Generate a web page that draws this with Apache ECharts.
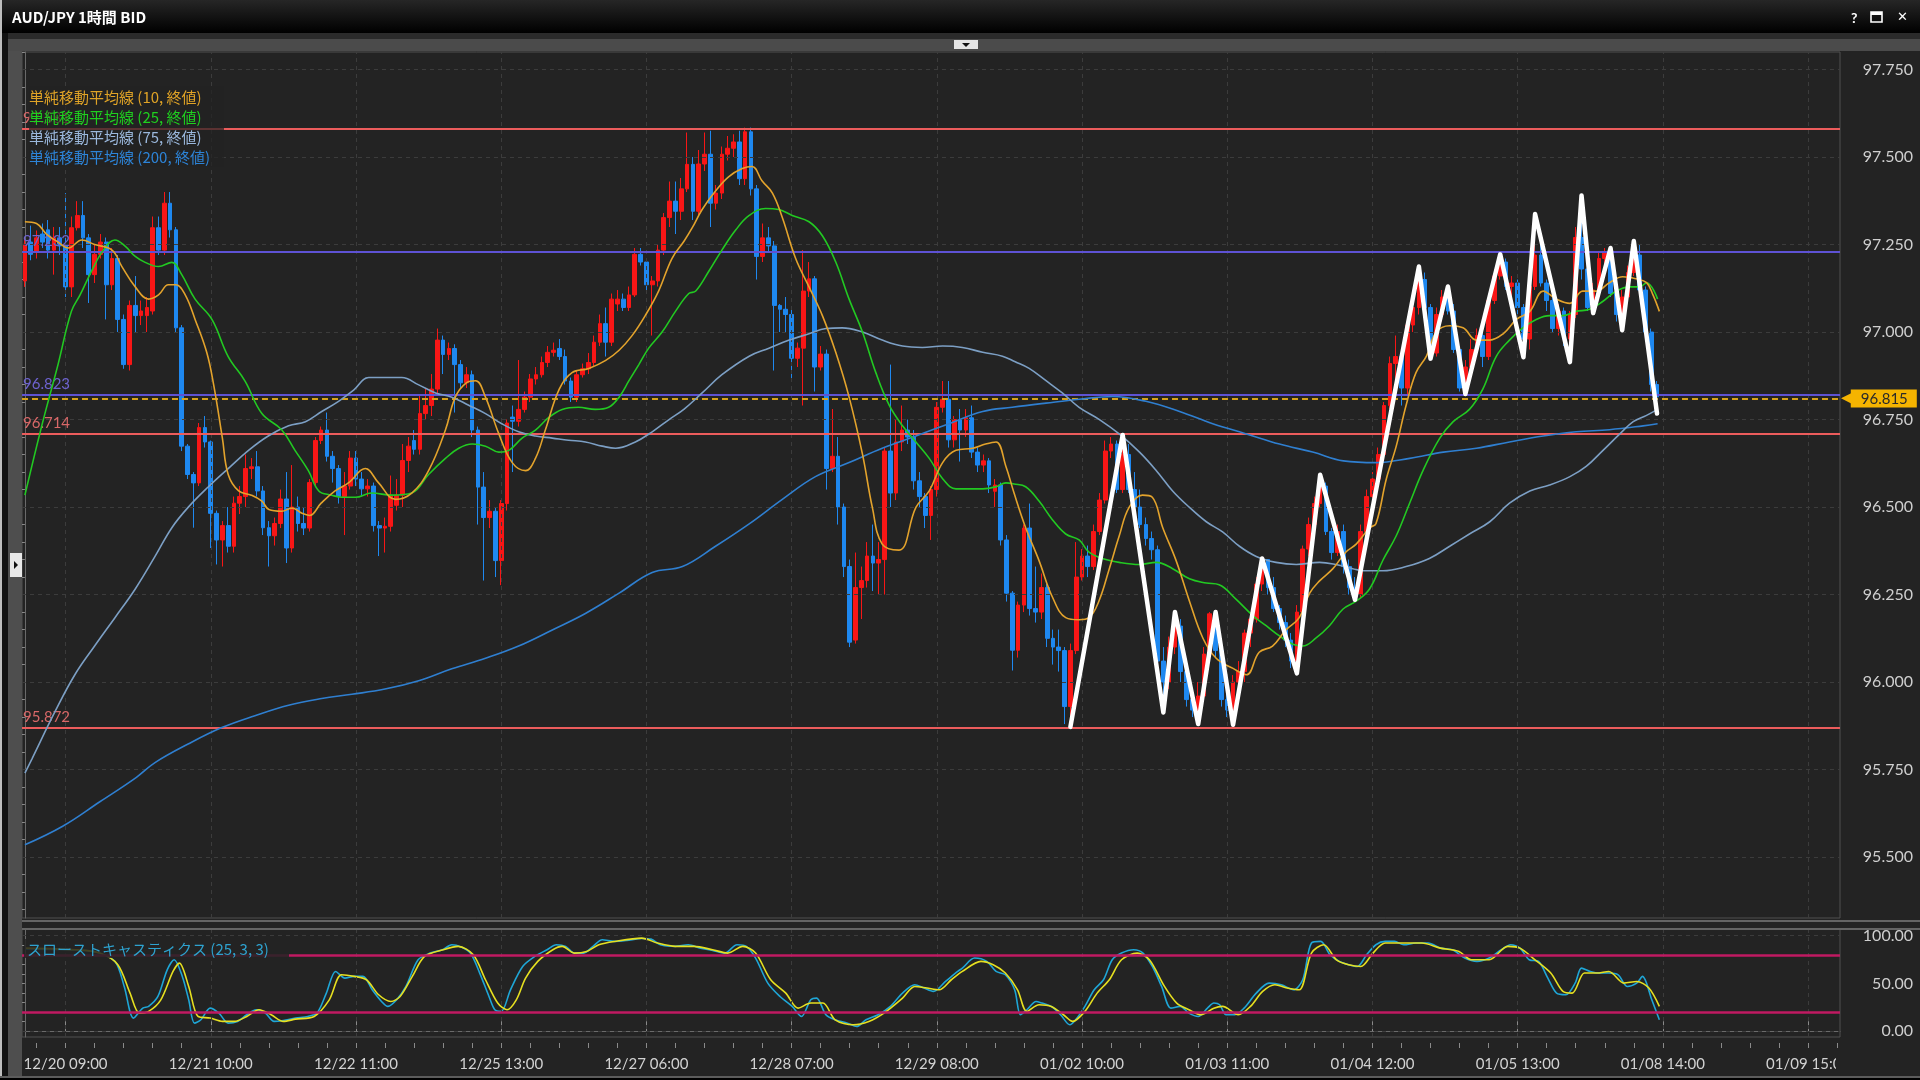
<!DOCTYPE html>
<html><head><meta charset="utf-8">
<script src="https://cdn.jsdelivr.net/npm/echarts@6/dist/echarts.min.js"></script>
<style>html,body{margin:0;padding:0;background:#232323;}#c{width:1920px;height:1080px;}</style>
</head><body><div id="c"></div><script>
// ---------- DATA ----------
const timeLabels = ['12/20 09:00','12/21 10:00','12/22 11:00','12/25 13:00','12/27 06:00','12/28 07:00','12/29 08:00','01/02 10:00','01/03 11:00','01/04 12:00','01/05 13:00','01/08 14:00','01/09 15:00'];
const labelIdx = [7,32,57,82,107,132,157,182,207,232,257,282,307];
const priceTicks = [95.5,95.75,96.0,96.25,96.5,96.75,97.0,97.25,97.5,97.75];
const stochTicks = [0,50,100];
// candles: [open, close, low, high]
const candles = [
[97.146,97.251,97.129,97.269],[97.257,97.222,97.205,97.304],[97.228,97.269,97.21,97.29],[97.28,97.257,97.24,97.31],[97.292,97.234,97.21,97.32],
[97.234,97.269,97.164,97.30],[97.269,97.246,97.22,97.30],[97.246,97.129,97.10,97.397],[97.129,97.298,97.10,97.33],[97.298,97.333,97.29,97.374],
[97.333,97.269,97.24,97.374],[97.269,97.164,97.083,97.28],[97.164,97.222,97.14,97.25],[97.222,97.257,97.21,97.28],[97.257,97.135,97.036,97.27],
[97.135,97.21,97.12,97.24],[97.21,97.036,97.0,97.22],[97.036,96.907,96.895,97.05],[96.907,97.076,96.89,97.09],[97.076,97.047,97.0,97.16],
[97.047,97.06,97.02,97.09],[97.047,97.07,97.0,97.1],[97.06,97.298,97.05,97.33],[97.298,97.234,97.22,97.33],[97.234,97.368,97.22,97.40],
[97.368,97.292,97.27,97.40],[97.292,97.012,97.0,97.30],[97.012,96.674,96.66,97.02],[96.674,96.593,96.58,96.68],[96.593,96.569,96.441,96.60],
[96.569,96.727,96.56,96.74],[96.727,96.686,96.67,96.76],[96.686,96.482,96.383,96.69],[96.482,96.406,96.336,96.49],[96.406,96.447,96.33,96.46],
[96.447,96.388,96.37,96.50],[96.388,96.511,96.37,96.53],[96.511,96.53,96.48,96.56],[96.53,96.61,96.50,96.65],[96.61,96.615,96.58,96.64],
[96.615,96.546,96.53,96.66],[96.546,96.441,96.42,96.56],[96.441,96.418,96.33,96.46],[96.418,96.453,96.39,96.47],[96.453,96.523,96.44,96.55],
[96.523,96.383,96.34,96.60],[96.383,96.50,96.37,96.62],[96.50,96.453,96.43,96.53],[96.453,96.44,96.42,96.50],[96.44,96.57,96.43,96.58],
[96.57,96.69,96.56,96.70],[96.69,96.72,96.68,96.73],[96.72,96.645,96.63,96.77],[96.645,96.61,96.57,96.66],[96.61,96.53,96.51,96.62],
[96.53,96.56,96.42,96.60],[96.56,96.64,96.55,96.66],[96.64,96.58,96.56,96.66],[96.58,96.552,96.53,96.60],[96.552,96.56,96.53,96.58],
[96.56,96.447,96.43,96.57],[96.447,96.44,96.36,96.46],[96.44,96.445,96.37,96.47],[96.445,96.534,96.43,96.59],[96.505,96.534,96.49,96.58],
[96.534,96.633,96.5,96.68],[96.633,96.674,96.6,96.7],[96.69,96.665,96.65,96.72],[96.665,96.767,96.65,96.82],[96.767,96.79,96.75,96.84],
[96.79,96.837,96.76,96.88],[96.837,96.977,96.82,97.01],[96.977,96.936,96.88,96.99],[96.936,96.953,96.92,96.97],[96.953,96.907,96.77,96.965],
[96.907,96.855,96.84,96.92],[96.855,96.878,96.84,96.90],[96.878,96.72,96.70,96.89],[96.72,96.557,96.45,96.73],[96.557,96.47,96.29,96.60],
[96.47,96.488,96.44,96.52],[96.488,96.347,96.30,96.50],[96.347,96.51,96.277,96.52],[96.51,96.74,96.49,96.75],[96.757,96.745,96.6,96.79],
[96.745,96.779,96.73,96.92],[96.779,96.814,96.77,96.83],[96.814,96.866,96.80,96.88],[96.866,96.878,96.85,96.90],[96.878,96.913,96.87,96.93],
[96.913,96.942,96.90,96.96],[96.942,96.948,96.93,96.97],[96.953,96.93,96.92,96.98],[96.93,96.86,96.85,96.95],[96.86,96.814,96.80,96.87],
[96.814,96.878,96.80,96.89],[96.878,96.895,96.87,96.91],[96.895,96.913,96.88,96.94],[96.913,96.971,96.90,96.99],[96.971,97.024,96.96,97.05],
[97.024,96.971,96.93,97.07],[96.971,97.094,96.96,97.11],[97.08,97.094,97.06,97.12],[97.094,97.07,97.06,97.11],[97.07,97.106,97.06,97.13],
[97.106,97.222,97.10,97.24],[97.222,97.20,97.19,97.24],[97.20,97.135,97.12,97.21],[97.135,97.146,96.99,97.16],[97.146,97.234,97.13,97.25],
[97.234,97.327,97.22,97.34],[97.327,97.374,97.30,97.43],[97.374,97.345,97.28,97.43],[97.345,97.409,97.32,97.44],[97.409,97.479,97.40,97.57],
[97.479,97.345,97.32,97.50],[97.345,97.48,97.33,97.52],[97.48,97.508,97.46,97.57],[97.508,97.368,97.30,97.575],[97.368,97.397,97.35,97.42],
[97.397,97.508,97.38,97.53],[97.508,97.525,97.49,97.56],[97.525,97.543,97.50,97.565],[97.543,97.438,97.42,97.575],[97.438,97.572,97.42,97.584],
[97.572,97.409,97.39,97.584],[97.409,97.216,97.15,97.42],[97.216,97.269,97.20,97.31],[97.269,97.246,97.23,97.30],[97.246,97.076,96.89,97.26],
[97.076,97.065,97.0,97.08],[97.065,97.05,97.0,97.10],[97.05,96.925,96.86,97.07],[96.925,96.954,96.90,96.97],[96.954,97.117,96.79,97.234],
[97.117,97.152,97.10,97.20],[97.152,96.90,96.83,97.16],[96.90,96.937,96.89,96.96],[96.937,96.61,96.55,96.95],[96.61,96.645,96.60,96.78],
[96.645,96.50,96.45,96.70],[96.50,96.33,96.30,96.51],[96.33,96.114,96.10,96.35],[96.12,96.27,96.11,96.37],[96.27,96.29,96.18,96.33],
[96.29,96.36,96.27,96.40],[96.36,96.34,96.26,96.45],[96.34,96.35,96.25,96.40],[96.35,96.66,96.25,96.67],[96.66,96.54,96.50,96.907],
[96.54,96.686,96.52,96.75],[96.686,96.72,96.66,96.79],[96.72,96.70,96.68,96.75],[96.70,96.575,96.55,96.72],[96.575,96.53,96.50,96.60],
[96.53,96.476,96.44,96.54],[96.476,96.55,96.406,96.56],[96.55,96.785,96.53,96.80],[96.785,96.808,96.77,96.86],[96.808,96.692,96.67,96.86],
[96.692,96.75,96.67,96.76],[96.75,96.72,96.63,96.78],[96.72,96.755,96.70,96.78],[96.755,96.657,96.64,96.79],[96.657,96.62,96.60,96.67],
[96.62,96.632,96.60,96.65],[96.632,96.563,96.54,96.64],[96.545,96.563,96.50,96.58],[96.563,96.406,96.39,96.57],[96.406,96.254,96.23,96.42],
[96.254,96.091,96.033,96.26],[96.091,96.22,96.07,96.23],[96.22,96.44,96.20,96.45],[96.44,96.21,96.19,96.51],[96.21,96.20,96.17,96.33],
[96.20,96.27,96.18,96.31],[96.27,96.125,96.10,96.28],[96.125,96.10,96.05,96.15],[96.10,96.09,96.03,96.15],[96.09,95.93,95.88,96.10],
[95.93,96.09,95.872,96.11],[96.09,96.30,96.08,96.40],[96.30,96.36,96.29,96.38],[96.36,96.33,96.30,96.39],[96.33,96.43,96.32,96.45],
[96.43,96.52,96.42,96.54],[96.52,96.66,96.51,96.69],[96.66,96.68,96.64,96.70],[96.68,96.55,96.54,96.69],[96.55,96.65,96.54,96.706],
[96.65,96.55,96.54,96.68],[96.55,96.50,96.44,96.60],[96.50,96.45,96.44,96.55],[96.45,96.41,96.39,96.47],[96.41,96.378,96.35,96.43],
[96.378,96.06,96.0,96.39],[96.06,96.0,95.913,96.10],[96.0,96.10,95.98,96.13],[96.10,96.16,96.08,96.20],[96.16,96.03,96.0,96.18],
[96.03,95.95,95.93,96.05],[95.95,95.92,95.90,95.98],[95.92,95.96,95.88,96.0],[95.96,96.08,95.95,96.10],[96.08,96.195,96.07,96.20],
[96.195,96.09,96.07,96.20],[96.09,95.95,95.93,96.10],[95.95,95.92,95.90,95.97],[95.92,96.0,95.878,96.02],[96.0,96.03,95.98,96.06],
[96.03,96.14,96.0,96.15],[96.14,96.18,96.10,96.2],[96.18,96.28,96.17,96.30],[96.28,96.35,96.26,96.353],[96.35,96.27,96.25,96.35],
[96.27,96.21,96.20,96.30],[96.21,96.17,96.15,96.22],[96.17,96.12,96.10,96.19],[96.12,96.06,96.04,96.14],[96.06,96.20,96.025,96.22],
[96.20,96.38,96.19,96.39],[96.38,96.45,96.36,96.47],[96.45,96.51,96.44,96.53],[96.51,96.56,96.50,96.592],[96.56,96.43,96.42,96.57],
[96.43,96.37,96.35,96.44],[96.37,96.43,96.36,96.45],[96.43,96.33,96.31,96.45],[96.33,96.27,96.25,96.35],[96.27,96.25,96.235,96.30],
[96.25,96.43,96.24,96.45],[96.43,96.53,96.42,96.55],[96.53,96.58,96.50,96.60],[96.58,96.65,96.57,96.67],[96.65,96.79,96.64,96.80],
[96.79,96.91,96.78,96.93],[96.91,96.93,96.86,96.99],[96.93,96.84,96.79,96.95],[96.84,97.02,96.82,97.03],[97.02,97.07,97.0,97.10],
[97.07,97.15,97.05,97.187],[97.15,97.07,97.05,97.17],[97.07,96.94,96.924,97.08],[96.94,97.05,96.93,97.07],[97.05,97.10,97.03,97.12],
[97.10,97.06,97.05,97.13],[97.06,96.95,96.94,97.08],[96.95,96.84,96.83,96.96],[96.84,96.90,96.823,96.92],[96.90,96.95,96.88,96.98],
[96.95,96.99,96.94,97.01],[96.99,96.93,96.90,97.0],[96.93,97.09,96.92,97.10],[97.09,97.16,97.08,97.18],[97.16,97.20,97.15,97.222],
[97.20,97.13,97.12,97.21],[97.13,97.14,97.10,97.16],[97.14,97.07,97.05,97.15],[97.07,96.98,96.928,97.08],[96.98,97.13,96.95,97.15],
[97.13,97.22,97.12,97.337],[97.22,97.14,97.13,97.26],[97.14,97.09,97.06,97.15],[97.09,97.01,97.0,97.10],[97.01,97.06,96.99,97.08],
[97.06,96.98,96.96,97.07],[96.98,97.05,96.914,97.06],[97.05,97.27,97.04,97.30],[97.27,97.18,97.15,97.39],[97.18,97.07,97.06,97.20],
[97.07,97.12,97.054,97.14],[97.12,97.21,97.10,97.23],[97.21,97.23,97.19,97.24],[97.23,97.11,97.10,97.24],[97.11,97.05,97.03,97.12],
[97.05,97.10,97.005,97.12],[97.10,97.17,97.09,97.19],[97.17,97.22,97.16,97.26],[97.22,97.12,97.10,97.25],[97.12,97.0,96.98,97.13],
[97.0,96.85,96.83,97.01],[96.85,96.815,96.767,96.86]
];
// moving averages: [bar index, value]
const ma10 = [[0,97.315],[2,97.31],[3.7,97.28],[5.7,97.257],[7.5,97.24],[9.8,97.263],[12,97.25],[15,97.234],[16.7,97.187],[19,97.129],[21.3,97.094],[23,97.106],[24.7,97.135],[26,97.135],[27.6,97.106],[29.3,97.036],[31.3,96.942],[32.5,96.849],[34,96.697],[35,96.593],[36.8,96.546],[39,96.534],[40.8,96.517],[42,96.493],[44.2,96.488],[46,96.497],[47.7,96.482],[49,96.476],[51,96.511],[53.4,96.546],[55.7,96.569],[58.6,96.61],[60.9,96.569],[63.8,96.522],[66.6,96.54],[69.5,96.604],[72.4,96.72],[74.1,96.814],[76,96.855],[77.6,96.861],[79.3,96.814],[81.6,96.709],[83.9,96.627],[86.2,96.604],[87.9,96.639],[89.6,96.72],[92,96.837],[94.2,96.884],[97.1,96.896],[100,96.919],[102.3,96.948],[104.5,96.989],[106.8,97.047],[109.1,97.117],[111.4,97.21],[113.5,97.26],[114.9,97.298],[116.6,97.35],[118.9,97.403],[121.2,97.444],[123.5,97.467],[125.2,97.473],[126.9,97.432],[128.7,97.397],[130.4,97.327],[132.7,97.21],[135,97.129],[137.3,97.047],[139.6,96.942],[141.9,96.814],[144.2,96.651],[145.9,96.499],[147.6,96.394],[150.5,96.377],[153.4,96.499],[155.7,96.546],[158,96.627],[160.3,96.662],[163.2,96.668],[165.4,96.68],[167.2,96.686],[168.9,96.616],[170.3,96.54],[172.3,96.441],[174.6,96.347],[176.9,96.243],[179.2,96.184],[181.5,96.178],[183.2,96.184],[184.9,96.231],[186.7,96.324],[188.4,96.417],[190.1,96.499],[192.4,96.534],[194.1,96.528],[195.9,96.441],[198.2,96.347],[200.5,96.231],[202.8,96.126],[205.1,96.068],[208,96.039],[210.3,96.021],[212.5,96.085],[214.8,96.103],[217.1,96.149],[219.4,96.184],[221.2,96.254],[222.9,96.289],[225.2,96.324],[227.4,96.371],[229.2,96.394],[231.5,96.441],[232.6,96.452],[234.4,96.581],[236.1,96.674],[237.8,96.791],[239.5,96.884],[241.3,96.931],[243,97.0],[245.3,97.018],[247.6,97.012],[249.9,96.977],[252.2,96.977],[254.5,96.995],[256.8,97.036],[259.1,97.059],[261.4,97.117],[263.7,97.094],[266,97.082],[268.2,97.117],[270.5,97.117],[272.8,97.141],[275.1,97.158],[277.4,97.152],[279.2,97.141],[280.3,97.106],[281.4,97.059]];
const ma25 = [[0,96.534],[2.9,96.732],[5.7,96.907],[8,97.059],[9.5,97.106],[11.5,97.175],[13.5,97.234],[15.5,97.263],[17.2,97.246],[19,97.216],[20.7,97.199],[23,97.187],[25.3,97.199],[27,97.164],[29.3,97.094],[32.2,97.036],[35,96.93],[37.9,96.86],[40.8,96.767],[44.2,96.721],[46.5,96.662],[48.8,96.604],[50.6,96.546],[52.8,96.534],[54.6,96.528],[56.9,96.528],[59.7,96.54],[63.2,96.534],[66.6,96.54],[69.5,96.593],[72.4,96.639],[74.7,96.668],[77,96.68],[79.3,96.674],[81.6,96.657],[83.3,96.662],[85.6,96.697],[87.9,96.72],[90.2,96.756],[92.5,96.779],[95.3,96.785],[98.2,96.779],[100.5,96.785],[102.3,96.814],[104,96.861],[105.7,96.907],[107.4,96.954],[109.7,97.0],[112,97.059],[114.3,97.11],[115.5,97.117],[117.8,97.175],[120,97.234],[122.4,97.292],[124.7,97.333],[127.5,97.353],[129.8,97.35],[132.1,97.333],[135,97.315],[137.3,97.275],[139.6,97.2],[141.9,97.094],[144.2,97.0],[146.5,96.884],[148.8,96.791],[151.1,96.732],[153.4,96.686],[155.7,96.639],[158,96.581],[160.3,96.552],[162.6,96.552],[164.9,96.552],[167.2,96.558],[168.9,96.569],[170.3,96.566],[172.3,96.558],[174.6,96.517],[176.9,96.464],[179.2,96.423],[181.5,96.406],[183.2,96.371],[185.5,96.353],[188.4,96.342],[191.9,96.336],[194.8,96.342],[197.6,96.324],[200.5,96.295],[203.4,96.283],[205.6,96.278],[208.5,96.237],[211.4,96.19],[213.7,96.161],[216,96.132],[218.3,96.108],[220,96.103],[222.3,96.126],[224.6,96.161],[226.9,96.208],[229.2,96.231],[231.5,96.266],[233.8,96.348],[236.1,96.418],[238.4,96.511],[240.7,96.604],[243.6,96.697],[245.9,96.744],[248.7,96.779],[251,96.837],[253.3,96.93],[255.6,96.977],[257.9,97.012],[260.2,97.036],[262.5,97.047],[264.8,97.047],[267,97.059],[269.4,97.065],[271.7,97.088],[274,97.117],[276.3,97.129],[278,97.129],[279.2,97.141],[281.1,97.094]];
const ma75 = [[0,95.74],[1.2,95.78],[5.2,95.916],[8.6,96.021],[12,96.103],[15.5,96.184],[19,96.266],[22.4,96.359],[25.3,96.441],[28.1,96.499],[31.6,96.558],[35,96.61],[38.5,96.662],[41.9,96.703],[45.4,96.732],[48.3,96.744],[51.1,96.773],[54,96.802],[56.6,96.834],[59.2,96.87],[62,96.87],[64.9,96.87],[67.8,96.849],[70.7,96.826],[73.5,96.814],[76.4,96.791],[79.3,96.767],[82.1,96.738],[85,96.715],[87.9,96.703],[90.8,96.697],[93.6,96.691],[96.5,96.686],[99.4,96.674],[101.7,96.668],[105.1,96.686],[108,96.715],[110.9,96.75],[113.5,96.78],[116.6,96.826],[120,96.878],[124.7,96.931],[128.1,96.954],[131.6,96.977],[135,96.995],[137.9,97.01],[140.7,97.012],[144.2,97.0],[147.6,96.977],[151.1,96.96],[154.5,96.956],[158,96.96],[161.4,96.956],[164.9,96.942],[168.3,96.931],[170.5,96.915],[172.9,96.896],[175.8,96.861],[178.6,96.826],[181.5,96.785],[185,96.75],[188.4,96.709],[191.9,96.657],[194.8,96.604],[197.6,96.546],[200.5,96.499],[203.4,96.458],[206.2,96.429],[209.1,96.388],[212,96.359],[215.4,96.342],[218.9,96.336],[222.9,96.342],[225.7,96.336],[228.6,96.324],[230.3,96.318],[233.8,96.318],[237.8,96.33],[241.8,96.353],[245.3,96.388],[248.7,96.423],[252.2,96.458],[255.6,96.511],[259.1,96.546],[262.5,96.563],[266,96.587],[268.8,96.616],[271.7,96.662],[274.6,96.709],[276.9,96.744],[279.2,96.762],[281.1,96.779]];
const ma200 = [[0,95.535],[6.5,95.588],[12.9,95.658],[19.2,95.728],[22.4,95.77],[28.1,95.823],[33.9,95.87],[39.6,95.904],[45.4,95.934],[51.1,95.953],[56.3,95.965],[62,95.98],[67.8,96.004],[73.5,96.038],[79.3,96.068],[85,96.103],[90.8,96.149],[96.5,96.196],[102.3,96.254],[108,96.313],[113.2,96.33],[118.9,96.388],[124.7,96.452],[130.4,96.522],[136.1,96.587],[141.9,96.627],[147.6,96.668],[153.4,96.703],[159.1,96.738],[164.9,96.773],[170,96.785],[175.8,96.797],[181.5,96.808],[187.3,96.816],[193,96.802],[198.8,96.773],[204.5,96.738],[210.3,96.709],[216,96.68],[221.7,96.657],[227,96.632],[232.6,96.627],[238.4,96.639],[244.2,96.657],[249.9,96.668],[255.6,96.686],[261.4,96.703],[267.1,96.715],[272.8,96.721],[278.6,96.732],[281.1,96.738]];
const zigzag = [[180,95.872],[189,96.706],[196,95.913],[198,96.20],[202,95.88],[205,96.20],[208,95.878],[213,96.353],[219,96.025],[223,96.592],[229,96.235],[240,97.187],[242,96.924],[245,97.13],[248,96.823],[254,97.222],[258,96.928],[260,97.337],[266,96.914],[268,97.39],[270,97.054],[273,97.24],[275,97.005],[277,97.26],[281,96.767]];
const stochK = [[0.2,86],[6.5,85.3],[11.8,83.5],[15.5,73],[17.1,46.9],[18.7,13.8],[20.3,24.2],[21.3,26],[22.9,36.4],[24.5,64.3],[25.7,74.8],[27.1,57.4],[28.2,32.9],[29.2,8.5],[30.3,12],[31.9,24.2],[33.4,19],[35,8.5],[36.6,10.3],[38.2,17.3],[39.8,22.5],[41.4,19],[42.9,10.3],[44.5,11.3],[46.6,13.8],[48.7,15.5],[50.3,19],[51.9,39.9],[53.5,62.6],[55.1,55.6],[56.7,57.4],[58.2,57.4],[59.8,43.4],[61.4,31.2],[62.5,26],[64,32.9],[65.6,46.9],[67.7,74.8],[69.8,81.8],[71.9,85.3],[73.5,90.5],[75.1,88.1],[76.7,81.8],[78.3,60.9],[79.9,36.4],[80.9,22.5],[82,20.8],[83.6,43.4],[85.7,67.8],[87.8,78.3],[89.9,85.3],[91.5,90.5],[93.1,88.8],[94.6,81.8],[96.2,81.8],[97.8,88.8],[99.4,95.7],[101.5,94],[103.6,95],[106.2,97.1],[107.8,96.4],[109.4,90.5],[112,88.8],[114.2,90.5],[116.3,87],[118.4,84.6],[120.5,81.8],[122.6,90.5],[124.2,88.8],[125.8,76.6],[127.9,50.4],[130,36.4],[132.1,26],[133.7,15.5],[135.3,32.9],[136.3,34.7],[137.9,17.3],[139.5,12],[141.6,8.5],[143.2,5],[144.8,12],[146.9,17.3],[149,26],[151.1,39.9],[153.2,48.7],[154.8,45.2],[156.4,41.7],[158.5,52.1],[160.6,62.6],[161.4,66.1],[163.5,76.6],[165.6,73.1],[167.2,62.6],[168.8,59.1],[170.4,43.4],[171.4,17.3],[172.5,22.5],[174.1,31.2],[175.1,29.5],[176.7,26],[178.3,17.3],[179.9,6.8],[180.9,12],[182.5,26],[184.1,43.4],[185.7,53.9],[187.2,74.8],[188.8,81.8],[190.9,85.3],[192.5,81.8],[194.1,67.8],[195.7,46.9],[197.3,24.2],[198.9,26],[200.4,19],[202,15.5],[203.6,24.2],[204.7,29.5],[205.7,27.7],[206.8,17.3],[208.3,17.3],[209.9,24.2],[212,39.9],[214.2,50.4],[216.3,48.7],[218.4,43.4],[220,53.9],[221.5,92.3],[223.1,94],[224.7,80],[226.3,73.1],[227.9,69.6],[229.4,67.8],[231,80],[232.6,90.5],[234.2,94],[235.8,94],[237.4,90.5],[239.5,92.3],[241.6,92.3],[243.7,87],[245.8,85.3],[247.9,76.6],[250,73.1],[252.1,76.6],[254.2,85.3],[255.8,90.5],[257.4,87],[259,74.8],[260.6,73.1],[262.2,55.6],[263.7,39.9],[265.3,38.2],[266.9,50.4],[268,66.1],[269.5,62.6],[271.1,60.9],[272.7,60.9],[274.3,59.1],[275.9,46.9],[277.5,50.4],[278.5,57.4],[280.1,32.9],[281.4,12]];
const stochD = [[0.2,87],[8.7,85.3],[12.9,81.8],[16,69.6],[18.1,39.9],[19.7,19],[21.3,20.8],[23.4,32.9],[25.5,62.6],[26.6,71.3],[28.2,46.9],[29.8,15.5],[31.9,13.8],[34,10.3],[36.1,10.3],[38.2,15.5],[40.3,22.5],[42.4,17.3],[44.5,10.3],[46.6,12.7],[49.8,15.5],[52.4,32.9],[54.5,59.1],[56.7,57.4],[58.8,53.9],[60.9,38.2],[63,31.2],[64.6,36.4],[66.7,57.4],[68.8,78.3],[72,85.3],[74.6,88.8],[77.2,80],[79.3,53.9],[81.4,29.5],[83,22.5],[84.6,32.9],[86.2,55.6],[88.3,73.1],[90.9,85.3],[92.5,88.8],[94.6,81.8],[96.7,83.5],[98.8,90.5],[101.5,94],[106.2,97.5],[108.9,92.3],[112,88.8],[115.2,88.8],[118.4,85.3],[121,81.8],[123.6,88.8],[125.8,81.8],[128.4,53.9],[131,39.9],[133.1,24.2],[135.3,29.5],[137.4,29.5],[139.5,12],[142.6,6.8],[145.3,10.3],[147.9,19],[151.1,34.7],[153.2,46.9],[155.3,45.2],[157.4,43.4],[159.5,53.9],[161.4,62.6],[164.6,73.1],[166.7,69.6],[168.8,60.9],[170.9,43.4],[172.5,20.8],[174.6,27.7],[176.7,26],[178.8,17.3],[180.4,10.3],[182.5,20.8],[184.6,39.9],[186.7,53.9],[188.8,74.8],[191.5,81.8],[193.6,74.8],[196.2,46.9],[198.3,29.5],[200.4,22.5],[202.5,17.3],[204.7,24.2],[206.2,26],[208.9,17.3],[211,26],[213.1,41.7],[215.2,48.7],[217.3,45.2],[219.4,43.4],[221.5,81.8],[223.6,90.5],[225.8,74.8],[227.9,69.6],[230,67.8],[232.1,81.8],[234.2,92.3],[237.4,92.3],[240.5,92.3],[243.7,87],[246.9,83.5],[249,74.8],[252.1,74.8],[255.3,88.8],[257.4,87],[260,74.8],[262.7,60.9],[264.8,41.7],[266.4,39.9],[268.5,60.9],[270.6,60.9],[272.7,62.6],[275.3,50.4],[277.5,52.1],[279.6,45.2],[281.4,26]];
const levelValues = [97.581, 97.232, 96.823, 96.714, 95.872];
const levelKinds  = ['red','purple','purple','red','red'];
const lastPrice = 96.815;
const stochBands = [80, 20];

// ---------- LAYOUT / STYLE ----------
const SLOTS = 313;
const cats = Array.from({length: SLOTS}, (_, i) => String(i));
const minorPriceTicks = [];
for (let k = 0; k <= 49; k++) minorPriceTicks.push(+(95.35 + 0.05 * k).toFixed(2));
const stochMinor = [0,10,20,30,40,50,60,70,80,90,100];
const minorTimeTicks = [];
for (let k = 2; k < SLOTS; k += 5) minorTimeTicks.push(k);
const BG = '#232323';
const GRIDLINE = '#3c3c3c';
const LVL = { red: {line:'#ec5c5c', text:'#d86868'}, purple: {line:'#5e52d4', text:'#6e63d0'} };
const NUMFONT = 'Lato';
const JPFONT = '"Noto Sans CJK JP"';

const chart = echarts.init(document.getElementById('c'), null, {width:1920, height:1080});

const levelMarks = levelValues.map((v, k) => ({
  yAxis: v,
  lineStyle: {color: LVL[levelKinds[k]].line, width: 2, type: 'solid'},
  label: {show: true, position: 'insideStartTop', distance: [1, 3], formatter: v.toFixed(3),
          color: LVL[levelKinds[k]].text, fontSize: 15, fontFamily: NUMFONT}
}));
levelMarks.push({
  yAxis: lastPrice,
  lineStyle: {color: '#d9a21a', width: 2, type: [6, 4]},
  label: {show: true, position: 'end', distance: 1,
          formatter: '{a|◀}{b|' + lastPrice.toFixed(3) + '}',
          rich: {a: {color: '#f5b400', fontSize: 14, fontFamily: 'DejaVu Sans', padding: [0, -1, 0, 0]},
                 b: {backgroundColor: '#f5b400', color: '#2a2a2a', fontSize: 15, fontFamily: NUMFONT, padding: [2, 9, 1, 10]}}}
});

const option = {
  animation: false,
  backgroundColor: BG,
  grid: [
    {left: 22, top: 52, width: 1818, height: 866, show: true, backgroundColor: BG, borderColor: '#505050', borderWidth: 1},
    {left: 22, top: 929, width: 1818, height: 108, show: true, backgroundColor: BG, borderColor: '#505050', borderWidth: 1}
  ],
  xAxis: [
    {type: 'category', gridIndex: 0, data: cats, boundaryGap: true, show: false},
    {type: 'value', gridIndex: 0, min: -0.5, max: SLOTS - 0.5, show: false},
    {type: 'value', gridIndex: 1, min: -0.5, max: SLOTS - 0.5, position: 'bottom', offset: 11,
     axisLine: {show: true, lineStyle: {color: '#6a6a6a'}},
     axisTick: {show: true, inside: true, length: 10, customValues: labelIdx, lineStyle: {color: '#8a8a8a'}},
     axisLabel: {show: true, customValues: labelIdx, margin: 9, color: '#d2d2d2', fontSize: 15, fontFamily: NUMFONT,
                 formatter: v => timeLabels[labelIdx.indexOf(Math.round(v))] || ''},
     splitLine: {show: false}},
    {type: 'value', gridIndex: 1, min: -0.5, max: SLOTS - 0.5, position: 'bottom', offset: 11,
     axisLine: {show: false},
     axisTick: {show: true, inside: true, length: 5, customValues: minorTimeTicks, lineStyle: {color: '#8a8a8a'}},
     axisLabel: {show: false}, splitLine: {show: false}}
  ],
  yAxis: [
    {type: 'value', gridIndex: 0, position: 'right', offset: 10, min: 95.326, max: 97.80,
     axisLine: {show: true, lineStyle: {color: '#6a6a6a'}},
     axisTick: {show: true, inside: true, length: 7, customValues: minorPriceTicks, lineStyle: {color: '#8a8a8a'}},
     axisLabel: {show: true, customValues: priceTicks, formatter: v => v.toFixed(3), align: 'right', margin: 63,
                 color: '#cfcfcf', fontSize: 16, fontFamily: NUMFONT},
     splitLine: {show: false}},
    {type: 'value', gridIndex: 1, position: 'right', offset: 10, min: -6, max: 107,
     axisLine: {show: true, lineStyle: {color: '#6a6a6a'}},
     axisTick: {show: true, inside: true, length: 7, customValues: stochMinor, lineStyle: {color: '#8a8a8a'}},
     axisLabel: {show: true, customValues: stochTicks, formatter: v => v.toFixed(2), align: 'right', margin: 63,
                 color: '#cfcfcf', fontSize: 16, fontFamily: NUMFONT},
     splitLine: {show: false}}
  ],
  series: [
    // grid lines (main)
    {type: 'line', xAxisIndex: 1, yAxisIndex: 0, data: ma200, z: 1, silent: true, showSymbol: false,
     lineStyle: {opacity: 0},
     markLine: {silent: true, symbol: 'none', label: {show: false}, animation: false,
       lineStyle: {color: GRIDLINE, type: [4, 4], width: 1},
       data: priceTicks.map(v => ({yAxis: v})).concat(labelIdx.map(v => ({xAxis: v})))}},
    // candles
    {type: 'candlestick', xAxisIndex: 0, yAxisIndex: 0, data: candles, z: 3, barWidth: '72%',
     itemStyle: {color: '#f81616', color0: '#1e88f0', borderColor: '#f81616', borderColor0: '#1e88f0', borderWidth: 1}},
    // level lines
    {type: 'line', xAxisIndex: 1, yAxisIndex: 0, data: ma200, z: 4, silent: true, showSymbol: false,
     lineStyle: {opacity: 0},
     markLine: {silent: true, symbol: 'none', animation: false, data: levelMarks}},
    {name: 'ma200', type: 'line', xAxisIndex: 1, yAxisIndex: 0, data: ma200, z: 5, smooth: 0.4, showSymbol: false,
     lineStyle: {color: '#2f7fd0', width: 1.6}},
    {name: 'ma75', type: 'line', xAxisIndex: 1, yAxisIndex: 0, data: ma75, z: 5, smooth: 0.4, showSymbol: false,
     lineStyle: {color: '#7c9fc4', width: 1.6}},
    {name: 'ma25', type: 'line', xAxisIndex: 1, yAxisIndex: 0, data: ma25, z: 5, smooth: 0.4, showSymbol: false,
     lineStyle: {color: '#22c922', width: 1.6}},
    {name: 'ma10', type: 'line', xAxisIndex: 1, yAxisIndex: 0, data: ma10, z: 5, smooth: 0.4, showSymbol: false,
     lineStyle: {color: '#e3a32c', width: 1.6}},
    {name: 'zigzag', type: 'line', xAxisIndex: 1, yAxisIndex: 0, data: zigzag, z: 6, showSymbol: false,
     lineStyle: {color: '#ffffff', width: 4.5, join: 'round', cap: 'round'}},
    // stochastic grid lines and bands
    {type: 'line', xAxisIndex: 2, yAxisIndex: 1, data: stochD, z: 1, silent: true, showSymbol: false,
     lineStyle: {opacity: 0},
     markLine: {silent: true, symbol: 'none', label: {show: false}, animation: false,
       lineStyle: {color: GRIDLINE, type: [4, 4], width: 1},
       data: [{yAxis: 0}, {yAxis: 100}].concat(labelIdx.map(v => ({xAxis: v})))}},
    {type: 'line', xAxisIndex: 2, yAxisIndex: 1, data: stochD, z: 2, silent: true, showSymbol: false,
     lineStyle: {opacity: 0},
     markLine: {silent: true, symbol: 'none', label: {show: false}, animation: false,
       lineStyle: {color: '#c01a62', type: 'solid', width: 2.5},
       data: stochBands.map(v => ({yAxis: v}))}},
    {name: 'slowK', type: 'line', xAxisIndex: 2, yAxisIndex: 1, data: stochK, z: 3, smooth: 0.3, showSymbol: false,
     lineStyle: {color: '#1fa6d6', width: 1.6}},
    {name: 'slowD', type: 'line', xAxisIndex: 2, yAxisIndex: 1, data: stochD, z: 4, smooth: 0.3, showSymbol: false,
     lineStyle: {color: '#e6e020', width: 1.6}}
  ],
  graphic: [
    // window chrome
    {type: 'rect', z: 100, shape: {x: 0, y: 0, width: 1920, height: 33},
     style: {fill: new echarts.graphic.LinearGradient(0, 0, 0, 1, [{offset: 0, color: '#262626'}, {offset: 1, color: '#000'}])}},
    {type: 'text', z: 101, style: {text: 'AUD/JPY 1時間 BID', x: 12, y: 17, fill: '#ffffff', font: 'bold 15px ' + JPFONT,
      verticalAlign: 'middle', textVerticalAlign: 'middle'}},
    {type: 'text', z: 101, style: {text: '?', x: 1851, y: 18, fill: '#ffffff', font: 'bold 14px Lato', verticalAlign: 'middle', textVerticalAlign: 'middle'}},
    {type: 'rect', z: 101, shape: {x: 1871, y: 12, width: 11, height: 10}, style: {fill: 'none', stroke: '#ffffff', lineWidth: 1.6}},
    {type: 'rect', z: 101, shape: {x: 1871, y: 12, width: 11, height: 3}, style: {fill: '#ffffff'}},
    {type: 'text', z: 101, style: {text: '✕', x: 1897, y: 18, fill: '#ffffff', font: 'bold 13px "DejaVu Sans"', verticalAlign: 'middle', textVerticalAlign: 'middle'}},
    {type: 'rect', z: 100, shape: {x: 0, y: 33, width: 1920, height: 6}, style: {fill: '#2b2b2b'}},
    {type: 'rect', z: 100, shape: {x: 0, y: 39, width: 1920, height: 12}, style: {fill: '#4b4b4b'}},
    {type: 'rect', z: 101, shape: {x: 954, y: 40, width: 24, height: 9}, style: {fill: '#e4e4e4'}},
    {type: 'polygon', z: 102, shape: {points: [[962, 43], [970, 43], [966, 47]]}, style: {fill: '#111'}},
    {type: 'rect', z: 100, shape: {x: 0, y: 0, width: 2, height: 1080}, style: {fill: '#bdbdbd'}},
    {type: 'rect', z: 100, shape: {x: 2, y: 33, width: 6, height: 1047}, style: {fill: '#111111'}},
    {type: 'rect', z: 100, shape: {x: 8, y: 51, width: 14, height: 1026}, style: {fill: '#4e4e4e'}},
    {type: 'rect', z: 101, shape: {x: 10, y: 553, width: 12, height: 24}, style: {fill: '#e8e8e8'}},
    {type: 'polygon', z: 102, shape: {points: [[14, 561], [14, 569], [18, 565]]}, style: {fill: '#111'}},
    // panel separator & bottom frame
    {type: 'rect', z: 100, shape: {x: 22, y: 919, width: 1898, height: 10}, style: {fill: BG}},
    {type: 'line', z: 101, shape: {x1: 22, y1: 921, x2: 1920, y2: 921}, style: {stroke: '#646464', lineWidth: 2}},
    {type: 'line', z: 101, shape: {x1: 22, y1: 929, x2: 1920, y2: 929}, style: {stroke: '#646464', lineWidth: 2}},
    {type: 'rect', z: 100, shape: {x: 1836, y: 1049, width: 84, height: 27}, style: {fill: BG}},
    {type: 'line', z: 101, shape: {x1: 0, y1: 1077, x2: 1920, y2: 1077}, style: {stroke: '#5c5c5c', lineWidth: 2}},
    {type: 'rect', z: 101, shape: {x: 0, y: 1078, width: 1920, height: 2}, style: {fill: '#000'}},
    // legend box
    {type: 'rect', z: 110, shape: {x: 29, y: 86, width: 195, height: 81}, style: {fill: 'rgba(35,35,35,0.72)'}},
    {type: 'text', z: 111, style: {text: '単純移動平均線 (10, 終値)', x: 29, y: 97, fill: '#e0a326', font: '15px ' + JPFONT, verticalAlign: 'middle', textVerticalAlign: 'middle'}},
    {type: 'text', z: 111, style: {text: '単純移動平均線 (25, 終値)', x: 29, y: 117, fill: '#1fd01f', font: '15px ' + JPFONT, verticalAlign: 'middle', textVerticalAlign: 'middle'}},
    {type: 'text', z: 111, style: {text: '単純移動平均線 (75, 終値)', x: 29, y: 137, fill: '#9bb8dd', font: '15px ' + JPFONT, verticalAlign: 'middle', textVerticalAlign: 'middle'}},
    {type: 'text', z: 111, style: {text: '単純移動平均線 (200, 終値)', x: 29, y: 157, fill: '#2d84d8', font: '15px ' + JPFONT, verticalAlign: 'middle', textVerticalAlign: 'middle'}},
    // stochastic label
    {type: 'rect', z: 110, shape: {x: 24, y: 939, width: 265, height: 19}, style: {fill: 'rgba(35,35,35,0.85)'}},
    {type: 'text', z: 111, style: {text: 'スローストキャスティクス (25, 3, 3)', x: 27, y: 949, fill: '#2ea2cf', font: '15px ' + JPFONT, verticalAlign: 'middle', textVerticalAlign: 'middle'}}
  ]
};
chart.setOption(option);
</script></body></html>
